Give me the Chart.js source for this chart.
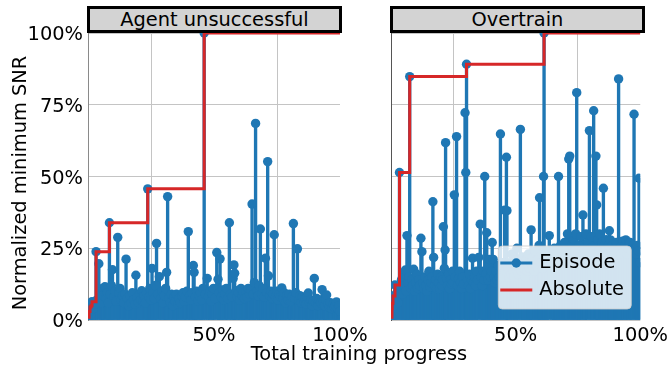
<!DOCTYPE html>
<html>
<head>
<meta charset="utf-8">
<script src="https://cdn.jsdelivr.net/npm/chart.js@4.4.1/dist/chart.umd.min.js"></script>
<style>
    body { margin: 0; background: #fff; }
    #wrap { position: relative; width: 672px; height: 371px; overflow: hidden; font-family: 'DejaVu Sans', sans-serif; }
    canvas { position: absolute; top: 0; }
    .panel-title {
        position: absolute; top: 6px; height: 27px; width: 255px; box-sizing: border-box;
        border: 3px solid #000; background: #d3d3d3; color: #000;
        font-size: 19.4px; line-height: 22px; text-align: center; white-space: nowrap;
    }
    .axis-label { position: absolute; font-size: 19.4px; line-height: 22px; text-align: center; color: #000; white-space: nowrap; }
</style>
</head>
<body>
<div id="wrap">
    <canvas id="leftChart" width="372" height="371" style="left:0"></canvas>
    <canvas id="rightChart" width="312" height="371" style="left:360px"></canvas>
    <div class="panel-title" style="left:87px">Agent unsuccessful</div>
    <div class="panel-title" style="left:390px">Overtrain</div>
    <div class="axis-label" style="left:209px; top:343px; width:300px">Total training progress</div>
    <div class="axis-label" style="left:-130px; top:172px; width:300px; transform:rotate(-90deg)">Normalized minimum SNR</div>
</div>
<script>
// [training progress, normalized min SNR] per episode
const leftEpisode = [
    [0.000, 0.010], [0.004, 0.030], [0.008, 0.045], [0.012, 0.050], [0.016, 0.064], [0.021, 0.040], [0.026, 0.055],
    [0.032, 0.238], [0.036, 0.070], [0.043, 0.196], [0.048, 0.080], [0.053, 0.060], [0.058, 0.110], [0.062, 0.085],
    [0.067, 0.116], [0.072, 0.075], [0.077, 0.095], [0.081, 0.060], [0.085, 0.339], [0.089, 0.090], [0.093, 0.120],
    [0.097, 0.175], [0.102, 0.080], [0.107, 0.100], [0.112, 0.065], [0.118, 0.288], [0.122, 0.095], [0.127, 0.110],
    [0.132, 0.070], [0.137, 0.085], [0.142, 0.060], [0.147, 0.090], [0.151, 0.212], [0.156, 0.075], [0.161, 0.050],
    [0.166, 0.085], [0.171, 0.060], [0.176, 0.095], [0.181, 0.070], [0.186, 0.055], [0.190, 0.156], [0.195, 0.080],
    [0.200, 0.060], [0.205, 0.090], [0.209, 0.070], [0.213, 0.102], [0.218, 0.065], [0.223, 0.085], [0.228, 0.060],
    [0.232, 0.095], [0.237, 0.457], [0.241, 0.080], [0.245, 0.110], [0.250, 0.070], [0.254, 0.180], [0.258, 0.095],
    [0.263, 0.075], [0.267, 0.120], [0.272, 0.267], [0.277, 0.090], [0.283, 0.151], [0.288, 0.075], [0.293, 0.100],
    [0.298, 0.060], [0.303, 0.085], [0.308, 0.110], [0.312, 0.166], [0.316, 0.430], [0.321, 0.075], [0.326, 0.060],
    [0.331, 0.090], [0.336, 0.050], [0.341, 0.080], [0.346, 0.065], [0.351, 0.090], [0.356, 0.055], [0.361, 0.075],
    [0.366, 0.060], [0.372, 0.084], [0.377, 0.095], [0.382, 0.065], [0.387, 0.080], [0.392, 0.100], [0.398, 0.308],
    [0.403, 0.085], [0.408, 0.070], [0.413, 0.095], [0.418, 0.190], [0.421, 0.166], [0.426, 0.080], [0.431, 0.100],
    [0.436, 0.065], [0.441, 0.085], [0.446, 0.095], [0.451, 0.070], [0.456, 0.110], [0.461, 1.000], [0.466, 0.090],
    [0.473, 0.145], [0.478, 0.080], [0.483, 0.100], [0.488, 0.065], [0.493, 0.090], [0.498, 0.110], [0.503, 0.075],
    [0.511, 0.235], [0.516, 0.142], [0.520, 0.095], [0.524, 0.213], [0.529, 0.080], [0.534, 0.105], [0.539, 0.070],
    [0.544, 0.090], [0.549, 0.110], [0.554, 0.075], [0.561, 0.339], [0.566, 0.090], [0.571, 0.080], [0.576, 0.145],
    [0.579, 0.192], [0.582, 0.163], [0.587, 0.102], [0.592, 0.080], [0.597, 0.095], [0.602, 0.070], [0.607, 0.110],
    [0.612, 0.085], [0.616, 0.095], [0.621, 0.075], [0.626, 0.100], [0.631, 0.080], [0.636, 0.110], [0.641, 0.090],
    [0.646, 0.105], [0.651, 0.404], [0.656, 0.090], [0.660, 0.130], [0.665, 0.685], [0.670, 0.100], [0.675, 0.085],
    [0.679, 0.120], [0.684, 0.317], [0.689, 0.090], [0.694, 0.110], [0.699, 0.080], [0.704, 0.215], [0.709, 0.095],
    [0.713, 0.552], [0.716, 0.154], [0.721, 0.085], [0.726, 0.100], [0.731, 0.075], [0.735, 0.090], [0.739, 0.297],
    [0.744, 0.080], [0.749, 0.100], [0.754, 0.070], [0.759, 0.090], [0.764, 0.080], [0.769, 0.112], [0.774, 0.075],
    [0.779, 0.095], [0.784, 0.060], [0.789, 0.085], [0.794, 0.070], [0.799, 0.090], [0.804, 0.065], [0.809, 0.080],
    [0.815, 0.336], [0.820, 0.075], [0.825, 0.095], [0.831, 0.248], [0.836, 0.070], [0.841, 0.085], [0.846, 0.060],
    [0.851, 0.080], [0.856, 0.065], [0.861, 0.075], [0.866, 0.055], [0.870, 0.080], [0.874, 0.094], [0.879, 0.060],
    [0.884, 0.070], [0.889, 0.050], [0.893, 0.065], [0.898, 0.145], [0.903, 0.060], [0.908, 0.075], [0.913, 0.050],
    [0.918, 0.070], [0.923, 0.060], [0.929, 0.106], [0.934, 0.065], [0.939, 0.050], [0.943, 0.070], [0.947, 0.087],
    [0.952, 0.055], [0.957, 0.045], [0.962, 0.060], [0.967, 0.040], [0.972, 0.055], [0.977, 0.045], [0.982, 0.050],
    [0.986, 0.063], [0.991, 0.040], [0.996, 0.050], [1.000, 0.030]
];
const leftAbsolute = [
    [0.000, 0.010], [0.004, 0.030], [0.008, 0.045], [0.012, 0.050], [0.016, 0.064],
    [0.032, 0.238], [0.085, 0.339], [0.237, 0.457], [0.461, 1.000], [1.000, 1.000]
];

const rightEpisode = [
    [0.000, 0.010], [0.004, 0.040], [0.005, 0.058], [0.008, 0.084], [0.012, 0.050], [0.016, 0.122], [0.020, 0.070],
    [0.024, 0.095], [0.028, 0.060], [0.034, 0.514], [0.038, 0.110], [0.042, 0.140], [0.046, 0.090], [0.050, 0.160],
    [0.054, 0.120], [0.058, 0.174], [0.061, 0.100], [0.064, 0.294], [0.068, 0.130], [0.072, 0.150], [0.075, 0.848],
    [0.079, 0.110], [0.083, 0.140], [0.087, 0.120], [0.091, 0.177], [0.095, 0.100], [0.099, 0.130], [0.103, 0.160],
    [0.107, 0.110], [0.111, 0.140], [0.115, 0.120], [0.120, 0.285], [0.124, 0.238], [0.128, 0.130], [0.132, 0.110],
    [0.136, 0.150], [0.140, 0.120], [0.144, 0.100], [0.148, 0.140], [0.152, 0.170], [0.156, 0.115], [0.160, 0.130],
    [0.164, 0.150], [0.168, 0.412], [0.171, 0.218], [0.175, 0.120], [0.179, 0.140], [0.183, 0.110], [0.187, 0.160],
    [0.191, 0.130], [0.195, 0.110], [0.199, 0.150], [0.203, 0.120], [0.207, 0.140], [0.210, 0.325], [0.214, 0.180],
    [0.217, 0.244], [0.219, 0.618], [0.223, 0.145], [0.227, 0.120], [0.231, 0.160], [0.235, 0.110], [0.239, 0.140],
    [0.243, 0.125], [0.247, 0.170], [0.250, 0.130], [0.254, 0.436], [0.258, 0.150], [0.263, 0.639], [0.267, 0.120],
    [0.271, 0.145], [0.275, 0.170], [0.279, 0.130], [0.283, 0.110], [0.287, 0.150], [0.291, 0.125], [0.297, 0.722],
    [0.300, 0.514], [0.303, 0.891], [0.307, 0.140], [0.311, 0.120], [0.315, 0.160], [0.319, 0.110], [0.323, 0.140],
    [0.327, 0.215], [0.331, 0.130], [0.335, 0.150], [0.339, 0.120], [0.343, 0.170], [0.347, 0.140], [0.352, 0.218],
    [0.358, 0.334], [0.362, 0.150], [0.366, 0.120], [0.370, 0.170], [0.373, 0.140], [0.376, 0.500], [0.380, 0.160],
    [0.384, 0.304], [0.388, 0.140], [0.392, 0.190], [0.395, 0.211], [0.399, 0.150], [0.403, 0.170], [0.406, 0.270],
    [0.410, 0.211], [0.414, 0.150], [0.418, 0.130], [0.422, 0.170], [0.426, 0.140], [0.430, 0.190], [0.434, 0.150],
    [0.439, 0.648], [0.443, 0.160], [0.447, 0.200], [0.451, 0.150], [0.456, 0.383], [0.460, 0.170], [0.463, 0.567],
    [0.465, 0.381], [0.469, 0.180], [0.473, 0.150], [0.477, 0.200], [0.481, 0.160], [0.485, 0.230], [0.489, 0.170],
    [0.493, 0.150], [0.497, 0.210], [0.501, 0.180], [0.505, 0.250], [0.509, 0.160], [0.513, 0.200], [0.519, 0.664],
    [0.523, 0.170], [0.527, 0.220], [0.531, 0.180], [0.535, 0.200], [0.539, 0.150], [0.543, 0.210], [0.547, 0.170],
    [0.551, 0.230], [0.555, 0.180], [0.559, 0.200], [0.562, 0.314], [0.566, 0.190], [0.570, 0.220], [0.574, 0.170],
    [0.578, 0.240], [0.582, 0.190], [0.586, 0.210], [0.590, 0.180], [0.594, 0.260], [0.596, 0.426], [0.600, 0.200],
    [0.604, 0.230], [0.608, 0.180], [0.612, 0.500], [0.614, 1.000], [0.618, 0.200], [0.622, 0.240], [0.626, 0.190],
    [0.630, 0.220], [0.635, 0.294], [0.643, 0.200], [0.647, 0.230], [0.651, 0.190], [0.655, 0.250], [0.659, 0.210],
    [0.663, 0.230], [0.667, 0.200], [0.672, 0.500], [0.676, 0.220], [0.680, 0.260], [0.684, 0.200], [0.688, 0.240],
    [0.692, 0.210], [0.696, 0.270], [0.700, 0.220], [0.704, 0.240], [0.708, 0.300], [0.713, 0.561], [0.717, 0.571],
    [0.721, 0.230], [0.725, 0.260], [0.729, 0.220], [0.733, 0.280], [0.737, 0.240], [0.741, 0.300], [0.745, 0.792],
    [0.749, 0.230], [0.753, 0.260], [0.757, 0.220], [0.761, 0.290], [0.765, 0.240], [0.770, 0.366], [0.774, 0.250],
    [0.778, 0.230], [0.782, 0.300], [0.786, 0.240], [0.790, 0.270], [0.796, 0.660], [0.800, 0.250], [0.804, 0.290],
    [0.808, 0.230], [0.813, 0.729], [0.818, 0.260], [0.822, 0.571], [0.825, 0.401], [0.829, 0.280], [0.833, 0.240],
    [0.837, 0.300], [0.841, 0.250], [0.845, 0.270], [0.849, 0.230], [0.852, 0.459], [0.856, 0.260], [0.860, 0.240],
    [0.864, 0.280], [0.868, 0.230], [0.872, 0.260], [0.876, 0.311], [0.880, 0.279], [0.884, 0.240], [0.888, 0.260],
    [0.892, 0.220], [0.896, 0.250], [0.900, 0.230], [0.904, 0.270], [0.908, 0.240], [0.913, 0.840], [0.917, 0.250],
    [0.921, 0.230], [0.925, 0.260], [0.929, 0.275], [0.933, 0.240], [0.938, 0.260], [0.942, 0.279], [0.946, 0.230],
    [0.950, 0.250], [0.955, 0.270], [0.960, 0.270], [0.964, 0.240], [0.968, 0.260], [0.975, 0.717], [0.979, 0.250],
    [0.983, 0.230], [0.988, 0.260], [0.992, 0.240], [0.995, 0.494], [1.000, 0.200]
];
const rightAbsolute = [
    [0.000, 0.010], [0.004, 0.040], [0.005, 0.058], [0.008, 0.084], [0.016, 0.122],
    [0.034, 0.514], [0.075, 0.848], [0.303, 0.891], [0.614, 1.000], [1.000, 1.000]
];

const xTicks = [0, 0.5, 1];
const yTicks = [0, 0.25, 0.5, 0.75, 1];
const legendLabels = ['Episode', 'Absolute'];

const BLUE = '#1f77b4';
const RED = '#d62728';
const FONT = { family: 'DejaVu Sans', size: 19.4 };

Chart.defaults.font.family = FONT.family;
Chart.defaults.font.size = FONT.size;
Chart.defaults.color = '#000';

const pct = (v) => Math.round(v * 100) + '%';
const toXY = (pairs) => pairs.map(([x, y]) => ({ x: x, y: y }));

// legend box drawn inside the plot area, bottom right
const boxLegend = {
    id: 'boxLegend',
    afterDraw(chart) {
        const ctx = chart.ctx;
        const a = chart.chartArea;
        const w = 133, h = 63;
        const left = a.right - 9 - w, top = a.bottom - 11 - h;
        ctx.save();
        ctx.beginPath();
        ctx.roundRect(left, top, w, h, 4);
        ctx.fillStyle = 'rgba(255,255,255,0.8)';
        ctx.fill();
        ctx.strokeStyle = 'rgba(204,204,204,0.8)';
        ctx.lineWidth = 1;
        ctx.stroke();

        const rows = [top + 17, top + 44];
        ctx.lineWidth = 3;
        ctx.strokeStyle = BLUE;
        ctx.beginPath(); ctx.moveTo(left + 2, rows[0]); ctx.lineTo(left + 34, rows[0]); ctx.stroke();
        ctx.fillStyle = BLUE;
        ctx.beginPath(); ctx.arc(left + 18, rows[0], 4.7, 0, Math.PI * 2); ctx.fill();
        ctx.strokeStyle = RED;
        ctx.beginPath(); ctx.moveTo(left + 2, rows[1]); ctx.lineTo(left + 34, rows[1]); ctx.stroke();

        ctx.fillStyle = '#000';
        ctx.font = FONT.size + 'px ' + FONT.family;
        ctx.textBaseline = 'middle';
        ctx.fillText(legendLabels[0], left + 41, rows[0]);
        ctx.fillText(legendLabels[1], left + 41, rows[1]);
        ctx.restore();
    }
};

function makePanel(canvasId, episode, absolute, opts) {
    const ctx = document.getElementById(canvasId).getContext('2d');
    return new Chart(ctx, {
        type: 'bar',
        data: {
            datasets: [
                {
                    type: 'line',
                    label: legendLabels[1],
                    data: toXY(absolute),
                    borderColor: RED,
                    borderWidth: 3,
                    stepped: true,
                    pointRadius: 0,
                    fill: false,
                    clip: 0,
                    order: 0
                },
                {
                    type: 'scatter',
                    label: legendLabels[0],
                    data: toXY(episode),
                    backgroundColor: BLUE,
                    borderWidth: 0,
                    pointRadius: 4.7,
                    clip: 0,
                    order: 1
                },
                {
                    type: 'bar',
                    label: 'stems',
                    data: toXY(episode),
                    backgroundColor: BLUE,
                    barThickness: 2.7,
                    borderWidth: 0,
                    clip: 0,
                    order: 2
                }
            ]
        },
        options: {
            responsive: false,
            animation: false,
            devicePixelRatio: 1,
            layout: { padding: { top: 33, right: opts.padRight, left: 0, bottom: 0 } },
            plugins: { legend: { display: false }, tooltip: { enabled: false }, title: { display: false } },
            scales: {
                x: {
                    type: 'linear',
                    offset: false,
                    min: 0,
                    max: 1,
                    afterBuildTicks: (scale) => { scale.ticks = xTicks.map(v => ({ value: v })); },
                    afterFit: (scale) => { scale.height = 51; },
                    ticks: { callback: (v) => v === 0 ? '' : pct(v), padding: 4, maxRotation: 0 },
                    grid: { color: '#c4c4c4', lineWidth: 1, drawTicks: false },
                    border: { display: false }
                },
                y: {
                    min: 0,
                    max: 1,
                    afterBuildTicks: (scale) => { scale.ticks = yTicks.map(v => ({ value: v })); },
                    afterFit: (scale) => { scale.width = opts.yWidth; },
                    ticks: { display: opts.showY, callback: pct, padding: 5, labelOffset: 2 },
                    grid: { color: '#c4c4c4', lineWidth: 1, drawTicks: false },
                    border: { display: true, color: opts.spine, width: 1 }
                }
            }
        },
        plugins: opts.legend ? [boxLegend] : []
    });
}

makePanel('leftChart', leftEpisode, leftAbsolute, { padRight: 32, yWidth: 88, showY: true, spine: '#8a8a8a', legend: false });
makePanel('rightChart', rightEpisode, rightAbsolute, { padRight: 29, yWidth: 31, showY: false, spine: '#555', legend: true });
</script>
</body>
</html>
